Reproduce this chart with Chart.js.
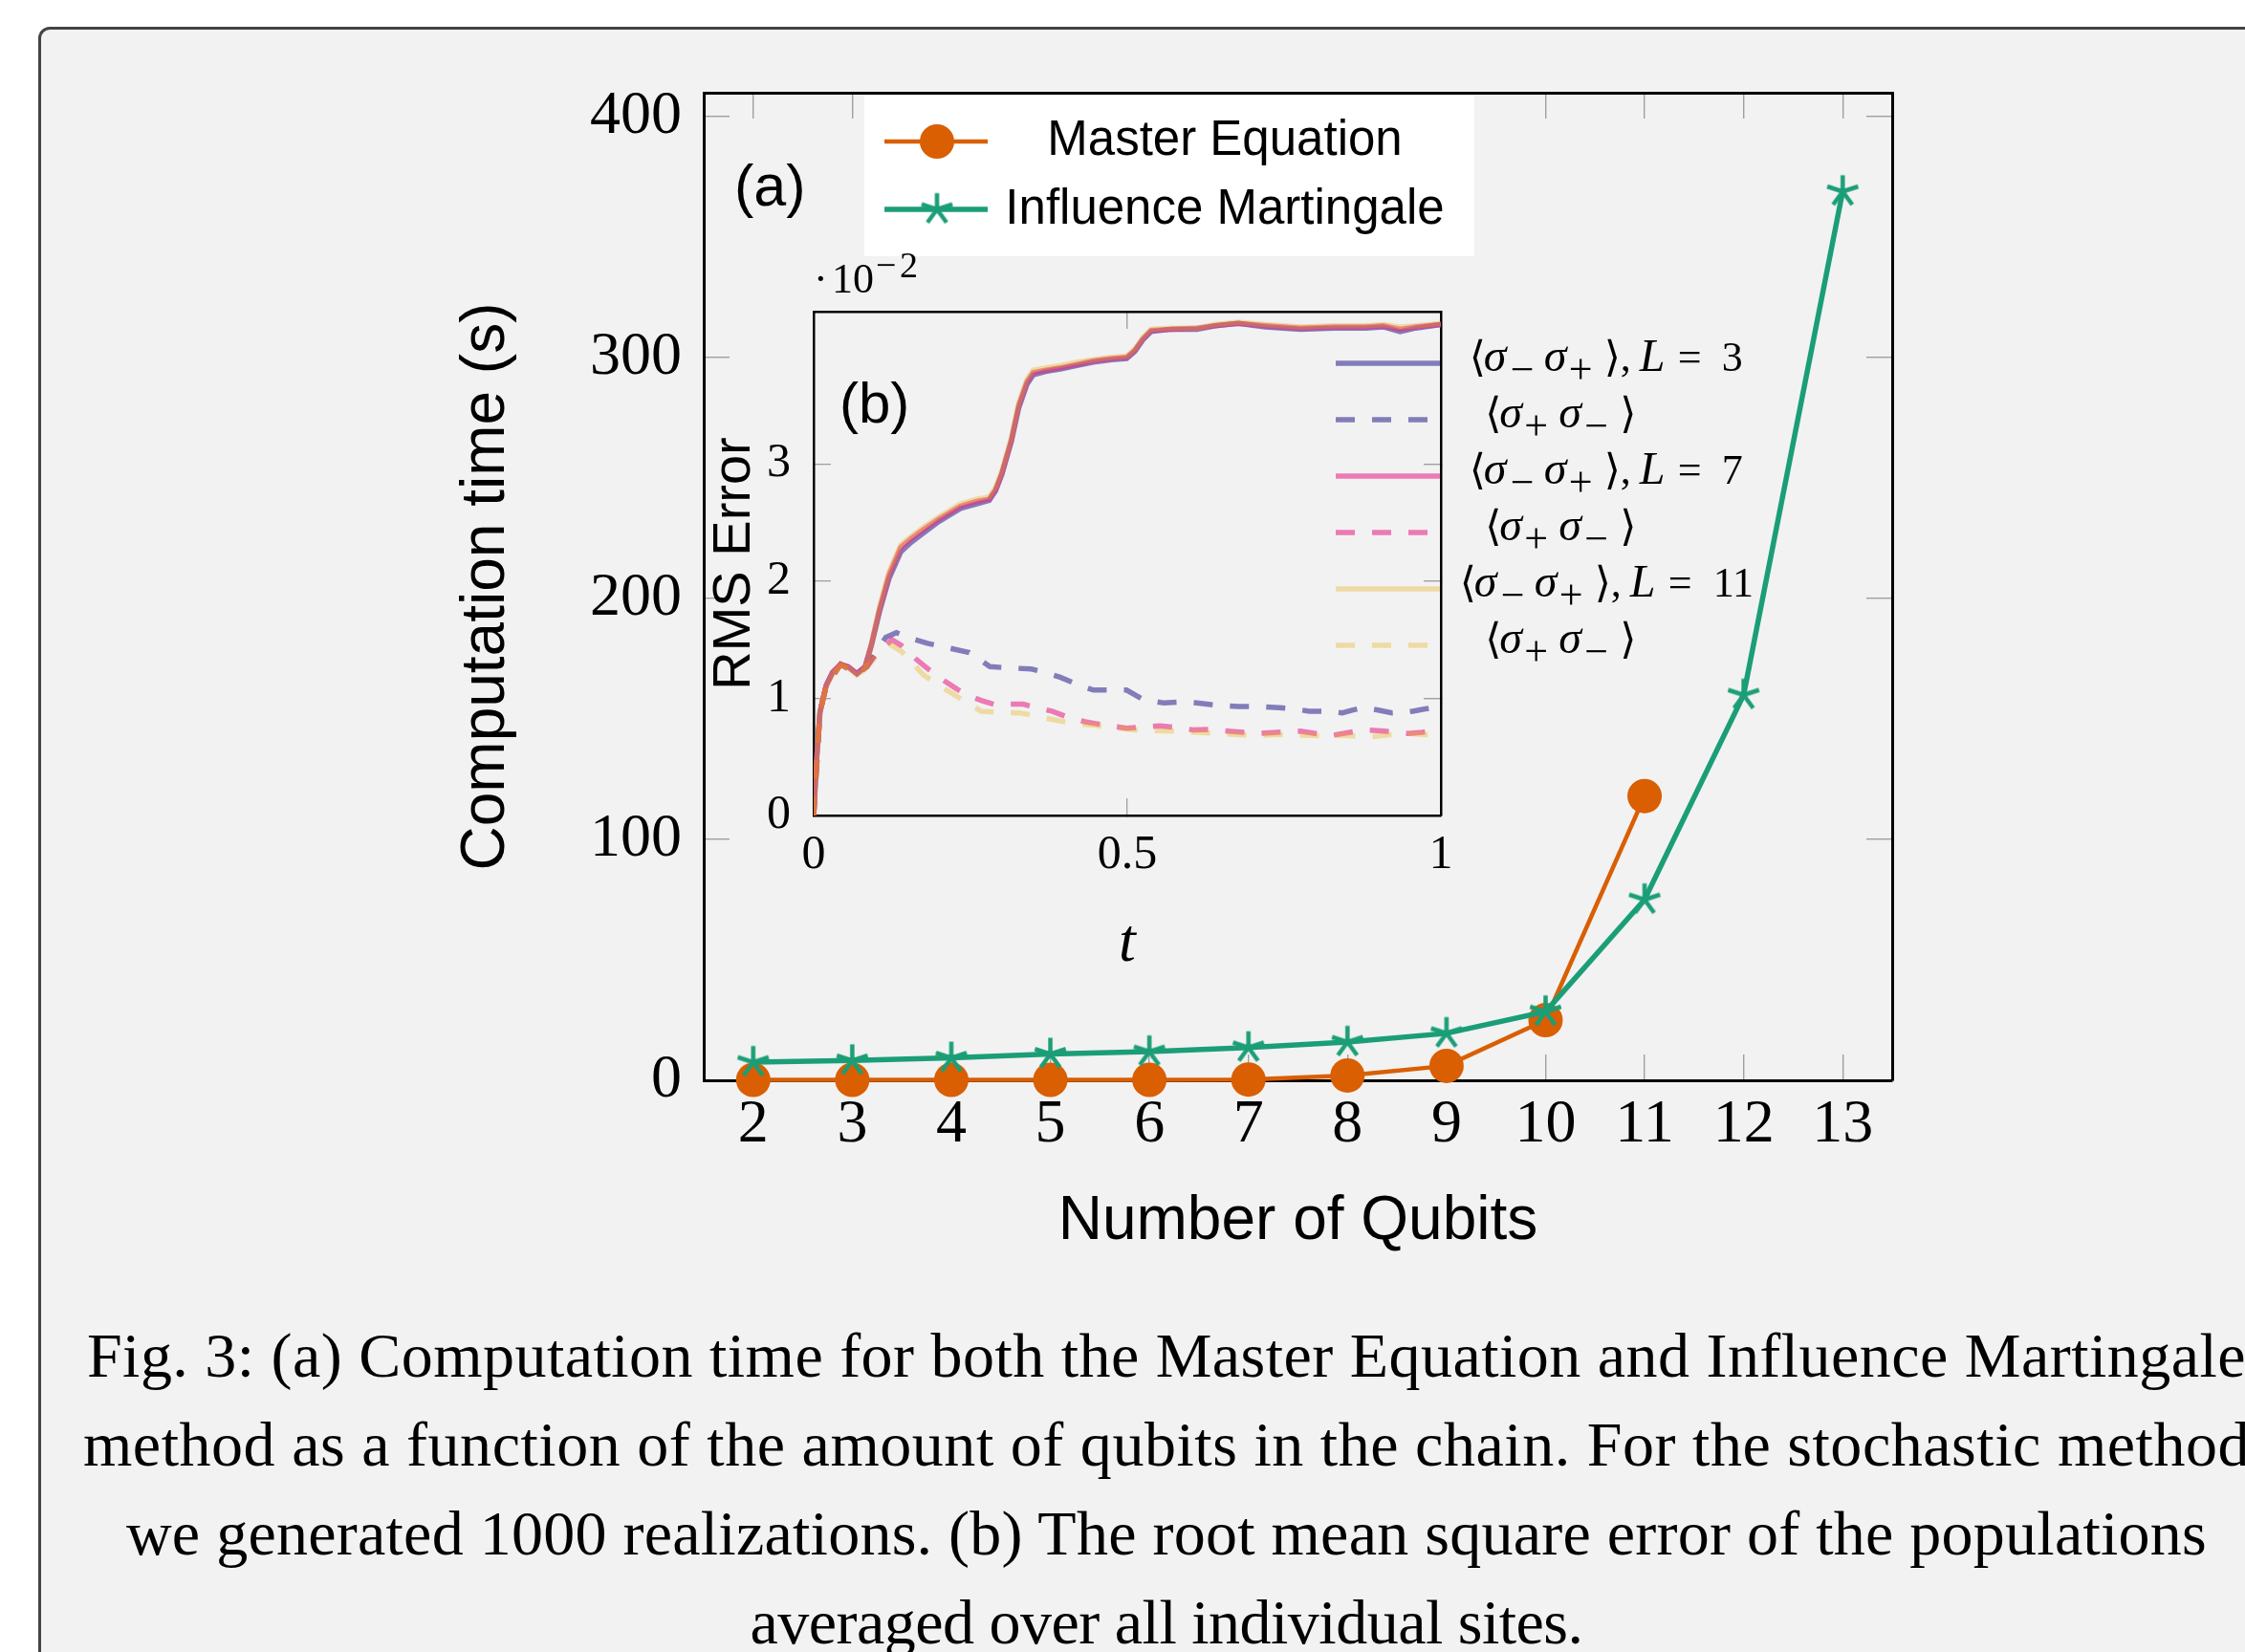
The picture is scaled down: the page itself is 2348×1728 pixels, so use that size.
<!DOCTYPE html>
<html>
<head>
<meta charset="utf-8">
<title>Fig. 3 — Computation time / RMS error</title>
<script src="https://cdn.jsdelivr.net/npm/chart.js@4.4.1/dist/chart.umd.min.js"></script>
<style>
  html, body { margin: 0; padding: 0; width: 2348px; height: 1728px; overflow: hidden; background: #fff; }
  #frame {
    position: absolute; left: 40px; top: 28px; width: 2700px; height: 2000px;
    box-sizing: border-box; border: 3.5px solid #444; border-radius: 12px; background: #f2f2f2;
  }
  canvas { position: absolute; }
  #main  { left: 0; top: 0; }
  #inset { left: 700px; top: 240px; }
  #caption {
    position: absolute; left: 0; top: 1371px; width: 2440px;
    font-family: 'Liberation Serif', 'Times New Roman', serif; font-size: 66px; line-height: 93px;
    color: #000; text-align: center;
  }
  #caption div { white-space: nowrap; }
</style>
</head>
<body>
<div id="frame"></div>
<canvas id="main" width="2348" height="1380"></canvas>
<canvas id="inset" width="1200" height="820"></canvas>
<div id="caption"></div>

<script>
// ── Data: (a) computation time ────────────────────────────────────────────────

const QUBITS_ME = [2, 3, 4, 5, 6, 7, 8, 9, 10, 11];
const TIME_ME   = [0.2, 0.2, 0.2, 0.2, 0.2, 0.3, 2, 6, 25, 118];

const QUBITS_IM = [2, 3, 4, 5, 6, 7, 8, 9, 10, 11, 12, 13];
const TIME_IM   = [7.5, 8.2, 9.3, 10.9, 11.9, 13.6, 15.9, 19.5, 28.5, 75, 160, 369];

const QUBIT_TICKS = [2, 3, 4, 5, 6, 7, 8, 9, 10, 11, 12, 13];
const TIME_TICKS  = [0, 100, 200, 300, 400];

// ── Data: (b) RMS error (×10⁻²) ───────────────────────────────────────────────

const SOLID_T = [0, 0.005, 0.01, 0.02, 0.03, 0.043, 0.055, 0.069, 0.082, 0.092, 0.105, 0.12,
  0.139, 0.155, 0.175, 0.2, 0.234, 0.26, 0.28, 0.29, 0.3, 0.315, 0.327, 0.34, 0.35, 0.37, 0.393,
  0.42, 0.446, 0.475, 0.499, 0.512, 0.525, 0.538, 0.57, 0.611, 0.64, 0.677, 0.72, 0.776, 0.83,
  0.88, 0.908, 0.935, 0.96, 1.0];
const SOLID_L3 = [0, 0.50, 0.88, 1.11, 1.22, 1.29, 1.27, 1.21, 1.27, 1.45, 1.74, 2.02,
  2.25, 2.33, 2.41, 2.51, 2.62, 2.66, 2.69, 2.77, 2.91, 3.19, 3.48, 3.68, 3.76, 3.79, 3.81,
  3.84, 3.87, 3.89, 3.90, 3.96, 4.06, 4.13, 4.15, 4.15, 4.18, 4.20, 4.17, 4.15, 4.16,
  4.16, 4.17, 4.13, 4.16, 4.19];
const SOLID_L7 = [0, 0.50, 0.88, 1.11, 1.22, 1.29, 1.27, 1.21, 1.27, 1.46, 1.76, 2.05,
  2.29, 2.36, 2.44, 2.53, 2.64, 2.68, 2.70, 2.78, 2.92, 3.20, 3.50, 3.70, 3.78, 3.80, 3.82,
  3.85, 3.88, 3.90, 3.91, 3.97, 4.07, 4.14, 4.15, 4.16, 4.18, 4.20, 4.18, 4.16, 4.17,
  4.17, 4.18, 4.15, 4.17, 4.19];
const SOLID_L11 = [0, 0.50, 0.88, 1.10, 1.21, 1.28, 1.26, 1.20, 1.25, 1.46, 1.78, 2.08,
  2.31, 2.38, 2.46, 2.55, 2.66, 2.70, 2.72, 2.80, 2.94, 3.22, 3.52, 3.72, 3.80, 3.82, 3.84,
  3.87, 3.89, 3.91, 3.92, 3.98, 4.08, 4.15, 4.16, 4.16, 4.19, 4.21, 4.19, 4.17, 4.18,
  4.18, 4.19, 4.17, 4.18, 4.20];

const DASH_L3_T = [0, 0.01, 0.02, 0.043, 0.069, 0.085, 0.1, 0.115, 0.132, 0.15, 0.181, 0.215,
  0.248, 0.265, 0.281, 0.31, 0.347, 0.37, 0.393, 0.42, 0.446, 0.475, 0.499, 0.525, 0.559, 0.585,
  0.611, 0.645, 0.677, 0.71, 0.743, 0.765, 0.79, 0.82, 0.843, 0.86, 0.875, 0.9, 0.922, 0.94,
  0.955, 0.975, 1.0];
const DASH_L3_V = [0, 0.88, 1.11, 1.29, 1.21, 1.27, 1.40, 1.52, 1.56, 1.52, 1.47, 1.43,
  1.39, 1.33, 1.27, 1.26, 1.25, 1.22, 1.18, 1.12, 1.07, 1.07, 1.07, 0.99, 0.96, 0.97,
  0.96, 0.94, 0.93, 0.93, 0.92, 0.91, 0.89, 0.89, 0.875, 0.90, 0.92, 0.90, 0.875, 0.88,
  0.89, 0.91, 0.93];

const DASH_L7_T = [0, 0.01, 0.02, 0.043, 0.069, 0.085, 0.1, 0.125, 0.14, 0.162, 0.185, 0.208,
  0.228, 0.248, 0.268, 0.287, 0.31, 0.334, 0.356, 0.38, 0.405, 0.433, 0.465, 0.499, 0.525, 0.552,
  0.58, 0.605, 0.63, 0.66, 0.685, 0.71, 0.74, 0.776, 0.8, 0.828, 0.855, 0.88, 0.91, 0.948, 0.97, 1.0];
const DASH_L7_V = [0, 0.88, 1.11, 1.29, 1.21, 1.27, 1.38, 1.50, 1.45, 1.34, 1.24, 1.15,
  1.08, 1.02, 0.98, 0.95, 0.95, 0.95, 0.92, 0.89, 0.84, 0.80, 0.77, 0.745, 0.755, 0.765,
  0.75, 0.73, 0.735, 0.72, 0.71, 0.70, 0.71, 0.72, 0.70, 0.685, 0.71, 0.73, 0.72, 0.70, 0.71, 0.73];

const DASH_L11_T = [0, 0.01, 0.02, 0.043, 0.069, 0.09, 0.105, 0.122, 0.14, 0.175, 0.2, 0.221,
  0.245, 0.267, 0.3, 0.327, 0.355, 0.38, 0.41, 0.446, 0.48, 0.512, 0.545, 0.578, 0.61, 0.644,
  0.677, 0.71, 0.74, 0.776, 0.81, 0.843, 0.886, 0.92, 0.95, 0.975, 1.0];
const DASH_L11_V = [0, 0.88, 1.11, 1.29, 1.21, 1.30, 1.40, 1.46, 1.40, 1.20, 1.11, 1.04,
  0.96, 0.89, 0.88, 0.876, 0.85, 0.82, 0.79, 0.77, 0.75, 0.73, 0.725, 0.72, 0.71, 0.70,
  0.69, 0.685, 0.69, 0.685, 0.68, 0.685, 0.67, 0.69, 0.70, 0.69, 0.70];

const T_TICKS   = [0, 0.5, 1];
const ERR_TICKS = [0, 1, 2, 3];

const CAPTION = [
  'Fig. 3: (a) Computation time for both the Master Equation and Influence Martingale',
  'method as a function of the amount of qubits in the chain. For the stochastic method',
  'we generated 1000 realizations. (b) The root mean square error of the populations',
  'averaged over all individual sites.',
];

// ── Style ─────────────────────────────────────────────────────────────────────

const SERIF = "'Liberation Serif', 'DejaVu Serif', serif";
const SANS  = "'Liberation Sans', Arial, sans-serif";
const ORANGE = '#d95f02';
const GREEN  = '#1b9e77';
const PURPLE = 'rgba(117,112,179,0.9)';
const PINK   = 'rgba(231,41,138,0.6)';
const YELLOW = 'rgba(230,171,2,0.33)';
const TICK_GREY = '#a0a0a0';
const DASH = [20, 18];

Chart.defaults.color = '#000';

const pts = (xs, ys) => xs.map((x, i) => ({ x, y: ys[i] }));
const setTicks = vals => scale => { scale.ticks = vals.map(v => ({ value: v })); };

function starMark(color, r, lw) {
  const c = document.createElement('canvas');
  const s = Math.ceil(2 * r + 2 * lw);
  c.width = c.height = s;
  const g = c.getContext('2d');
  g.strokeStyle = color;
  g.lineWidth = lw;
  g.beginPath();
  for (let k = 0; k < 5; k++) {
    const a = -Math.PI / 2 + k * 2 * Math.PI / 5;
    g.moveTo(s / 2, s / 2);
    g.lineTo(s / 2 + r * Math.cos(a), s / 2 + r * Math.sin(a));
  }
  g.stroke();
  return c;
}
const STAR = starMark(GREEN, 17, 4.5);

// mirrored frame axis (ticks only, pointing inward)
function mirrorAxis(position, min, max, vals, tickLen, bw) {
  const horiz = position === 'top';
  return {
    type: 'linear', position, min, max,
    afterBuildTicks: setTicks(vals),
    afterFit: s => { if (horiz) s.height = 0; else s.width = 0; },
    ticks: { display: false },
    grid: { drawOnChartArea: false, drawTicks: true, tickLength: -tickLen, color: TICK_GREY, lineWidth: 1.4 },
    border: { display: true, color: '#000', width: bw },
  };
}

// ── (a) main chart ────────────────────────────────────────────────────────────

const mainLegend = {
  id: 'mainLegend',
  afterDraw(chart) {
    const { ctx, chartArea: a } = chart;
    const [me, im] = chart.data.datasets;
    ctx.save();
    ctx.fillStyle = '#fff';
    ctx.fillRect(a.left + 168, a.top + 2, 638, 169);

    const rows = [
      { ds: me, y: a.top + 51, base: a.top + 65 },
      { ds: im, y: a.top + 122, base: a.top + 137 },
    ];
    rows.forEach(({ ds, y, base }) => {
      ctx.strokeStyle = ds.borderColor;
      ctx.lineWidth = ds.borderWidth;
      ctx.beginPath();
      ctx.moveTo(a.left + 189, y);
      ctx.lineTo(a.left + 297, y);
      ctx.stroke();
      if (ds.pointStyle === 'circle') {
        ctx.fillStyle = ds.backgroundColor;
        ctx.beginPath();
        ctx.arc(a.left + 244, y, ds.pointRadius, 0, 2 * Math.PI);
        ctx.fill();
      } else {
        ctx.drawImage(ds.pointStyle, a.left + 244 - ds.pointStyle.width / 2, y - ds.pointStyle.height / 2);
      }
      ctx.fillStyle = '#000';
      ctx.font = `51px ${SANS}`;
      ctx.textAlign = 'center';
      ctx.textBaseline = 'alphabetic';
      ctx.fillText(ds.label, a.left + 545, base);
    });

    ctx.font = `61px ${SANS}`;
    ctx.textAlign = 'left';
    ctx.fillText('(a)', a.left + 32, a.top + 118);
    ctx.restore();
  },
};

new Chart(document.getElementById('main'), {
  type: 'line',
  data: {
    datasets: [
      {
        label: 'Master Equation',
        data: pts(QUBITS_ME, TIME_ME),
        borderColor: ORANGE, backgroundColor: ORANGE, borderWidth: 4.5,
        pointStyle: 'circle', pointRadius: 18, pointHoverRadius: 18, pointBorderWidth: 0,
        tension: 0, clip: false, order: 2,
      },
      {
        label: 'Influence Martingale',
        data: pts(QUBITS_IM, TIME_IM),
        borderColor: GREEN, backgroundColor: GREEN, borderWidth: 5.5,
        pointStyle: STAR, pointRadius: 17, pointHoverRadius: 17,
        tension: 0, clip: false, order: 1,
      },
    ],
  },
  options: {
    responsive: false,
    animation: false,
    devicePixelRatio: 1,
    layout: { padding: { left: 0, top: 97, right: 369, bottom: 0 } },
    plugins: { legend: { display: false }, tooltip: { enabled: false } },
    scales: {
      x: {
        type: 'linear', position: 'bottom', min: 1.5, max: 13.5,
        afterBuildTicks: setTicks(QUBIT_TICKS),
        afterFit: s => { s.height = 250; },
        ticks: { font: { family: SERIF, size: 64 }, padding: 35.5, maxRotation: 0, autoSkip: false, callback: v => String(v) },
        grid: { drawOnChartArea: false, drawTicks: true, tickLength: -27, color: TICK_GREY, lineWidth: 1.4 },
        border: { display: true, color: '#000', width: 3 },
        title: { display: true, text: 'Number of Qubits', font: { family: SANS, size: 64 }, padding: { top: 0, bottom: 63.6 } },
      },
      x2: mirrorAxis('top', 1.5, 13.5, QUBIT_TICKS, 27, 3),
      y: {
        type: 'linear', position: 'left', min: 0, max: 410,
        afterBuildTicks: setTicks(TIME_TICKS),
        afterFit: s => { s.width = 736; },
        ticks: { font: { family: SERIF, size: 64 }, padding: 50, callback: v => String(v) },
        grid: { drawOnChartArea: false, drawTicks: true, tickLength: -27, color: TICK_GREY, lineWidth: 1.4 },
        border: { display: true, color: '#000', width: 3 },
        title: { display: true, text: 'Computation time (s)', font: { family: SANS, size: 64 }, padding: { top: 471, bottom: 0 } },
      },
      y2: mirrorAxis('right', 0, 410, TIME_TICKS, 27, 3),
    },
  },
  plugins: [mainLegend],
});

// ── (b) inset ─────────────────────────────────────────────────────────────────

// glyph offsets of the legend entries, relative to the start of each label
const SOLID_GLYPHS = n => [
  ['⟨', 0, 'm'], ['σ', 15, 'i'], ['−', 43, 's'], ['σ', 78, 'i'], ['+', 104, 's'],
  ['⟩', 141, 'm'], [',', 158, 'm'], ['L', 178, 'i'], ['=', 218, 'm'], [n, 264, 'm'],
];
const DASH_GLYPHS = [
  ['⟨', 0, 'm'], ['σ', 15, 'i'], ['+', 41, 's'], ['σ', 77, 'i'], ['−', 104, 's'], ['⟩', 141, 'm'],
];
const LEGEND_ROWS = [
  { start: 836.7, glyphs: SOLID_GLYPHS('3') },
  { start: 853.3, glyphs: DASH_GLYPHS },
  { start: 836.7, glyphs: SOLID_GLYPHS('7') },
  { start: 853.3, glyphs: DASH_GLYPHS },
  { start: 826.7, glyphs: SOLID_GLYPHS('11').map(g => g[0] === '11' ? ['11', 265, 'm'] : g) },
  { start: 853.3, glyphs: DASH_GLYPHS },
];

function drawGlyphs(ctx, glyphs, x0, base) {
  glyphs.forEach(([txt, dx, kind]) => {
    if (kind === 'i') ctx.font = `italic 48px ${SERIF}`;
    else if (kind === 's') ctx.font = `44px ${SERIF}`;
    else ctx.font = `44px ${SERIF}`;
    ctx.fillText(txt, x0 + dx, kind === 's' ? base + 13 : base);
  });
}

const insetDecor = {
  id: 'insetDecor',
  afterDraw(chart) {
    const { ctx } = chart;
    ctx.save();
    ctx.fillStyle = '#000';
    ctx.textAlign = 'left';
    ctx.textBaseline = 'alphabetic';

    // legend
    chart.data.datasets.forEach((ds, i) => {
      const y = 140 + 59 * i;
      ctx.strokeStyle = ds.borderColor;
      ctx.lineWidth = ds.borderWidth;
      ctx.setLineDash(ds.borderDash || []);
      ctx.beginPath();
      ctx.moveTo(697, y);
      ctx.lineTo(806, y);
      ctx.stroke();
      ctx.setLineDash([]);
      drawGlyphs(ctx, LEGEND_ROWS[i].glyphs, LEGEND_ROWS[i].start, y + 8);
    });

    // axis multiplier ·10^-2
    ctx.font = `44px ${SERIF}`;
    ctx.fillText('·', 151, 66);
    ctx.fillText('10', 170, 66);
    ctx.font = `38px ${SERIF}`;
    ctx.fillText('−', 216, 50);
    ctx.fillText('2', 241, 50);

    ctx.font = `60px ${SANS}`;
    ctx.fillText('(b)', 178, 202);
    ctx.restore();
  },
};

const lineDs = (label, xs, ys, color, dashed, order) => ({
  label, data: pts(xs, ys),
  borderColor: color, borderWidth: 5.5, borderDash: dashed ? DASH : [],
  pointRadius: 0, tension: 0, order,
});

new Chart(document.getElementById('inset'), {
  type: 'line',
  data: {
    datasets: [
      lineDs('⟨σ−σ+⟩, L = 3',  SOLID_T, SOLID_L3, PURPLE, false, 6),
      lineDs('⟨σ+σ−⟩, L = 3',  DASH_L3_T, DASH_L3_V, PURPLE, true, 5),
      lineDs('⟨σ−σ+⟩, L = 7',  SOLID_T, SOLID_L7, PINK, false, 4),
      lineDs('⟨σ+σ−⟩, L = 7',  DASH_L7_T, DASH_L7_V, PINK, true, 3),
      lineDs('⟨σ−σ+⟩, L = 11', SOLID_T, SOLID_L11, YELLOW, false, 2),
      lineDs('⟨σ+σ−⟩, L = 11', DASH_L11_T, DASH_L11_V, YELLOW, true, 1),
    ],
  },
  options: {
    responsive: false,
    animation: false,
    devicePixelRatio: 1,
    layout: { padding: { left: 0, top: 86, right: 393, bottom: 0 } },
    plugins: { legend: { display: false }, tooltip: { enabled: false } },
    scales: {
      x: {
        type: 'linear', position: 'bottom', min: 0, max: 1,
        afterBuildTicks: setTicks(T_TICKS),
        afterFit: s => { s.height = 207; },
        ticks: { font: { family: SERIF, size: 50 }, padding: 30, maxRotation: 0, autoSkip: false, callback: v => String(v) },
        grid: { drawOnChartArea: false, drawTicks: true, tickLength: -18, color: TICK_GREY, lineWidth: 1.3 },
        border: { display: true, color: '#000', width: 2.5 },
        title: { display: true, text: 't', font: { family: SERIF, size: 64, style: 'italic' }, padding: { top: 0, bottom: 33 } },
      },
      x2: mirrorAxis('top', 0, 1, T_TICKS, 18, 2.5),
      y: {
        type: 'linear', position: 'left', min: 0, max: 4.3,
        afterBuildTicks: setTicks(ERR_TICKS),
        afterFit: s => { s.width = 151; },
        ticks: { font: { family: SERIF, size: 50 }, padding: 42, callback: v => String(v) },
        grid: { drawOnChartArea: false, drawTicks: true, tickLength: -18, color: TICK_GREY, lineWidth: 1.3 },
        border: { display: true, color: '#000', width: 2.5 },
        title: { display: true, text: 'RMS Error', font: { family: SANS, size: 56 }, padding: { top: 35, bottom: 0 } },
      },
      y2: mirrorAxis('right', 0, 4.3, ERR_TICKS, 18, 2.5),
    },
  },
  plugins: [insetDecor],
});

// ── Caption ───────────────────────────────────────────────────────────────────

const CAPTION_WIDTH = [2258, 2266, 2176, 871];
const cap = document.getElementById('caption');
CAPTION.forEach((txt, i) => {
  const line = document.createElement('div');
  const span = document.createElement('span');
  span.textContent = txt;
  line.appendChild(span);
  cap.appendChild(line);
  const w = span.getBoundingClientRect().width;
  span.style.letterSpacing = ((CAPTION_WIDTH[i] - w) / txt.length).toFixed(2) + 'px';
});
</script>
</body>
</html>
